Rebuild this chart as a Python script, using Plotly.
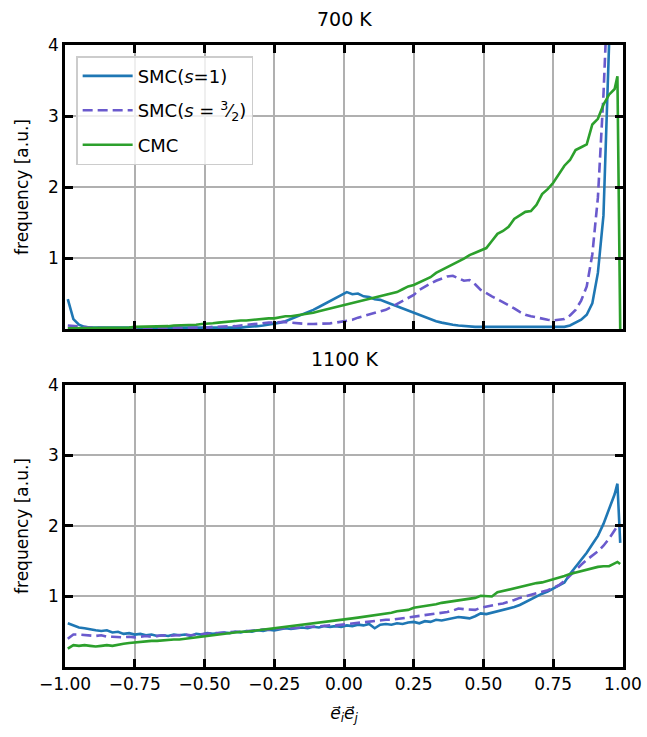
import numpy as np
import plotly.graph_objects as go

# bin centres of e_i . e_j
x = list(np.round(np.arange(-0.99, 0.971, 0.02), 3)) + [0.98, 0.99]

# 700 K
top_smc1 = [0.42, 0.14, 0.06, 0.03, 0.02, 0.02, 0.01, 0.01, 0.01, 0.01,
            0.01, 0.01, 0.01, 0.01, 0.01, 0.01, 0.01, 0.01, 0.01, 0.01,
            0.01, 0.01, 0.01, 0.01, 0.01, 0.01, 0.01, 0.02, 0.02, 0.02,
            0.02, 0.02, 0.03, 0.03, 0.04, 0.05, 0.06, 0.07, 0.09, 0.11,
            0.14, 0.17, 0.20, 0.23, 0.27, 0.31, 0.35, 0.40, 0.44, 0.47,
            0.52, 0.49, 0.50, 0.46, 0.45, 0.42, 0.41, 0.38, 0.35, 0.32,
            0.29, 0.26, 0.22, 0.20, 0.17, 0.14, 0.11, 0.09, 0.07, 0.06,
            0.05, 0.04, 0.04, 0.03, 0.03, 0.03, 0.02, 0.02, 0.02, 0.02,
            0.02, 0.02, 0.02, 0.02, 0.02, 0.02, 0.02, 0.02, 0.03, 0.03,
            0.05, 0.09, 0.13, 0.20, 0.36, 0.79, 1.60, 4.00, 6.50, 8.00,
            9.00]
top_smc32 = [0.05, 0.04, 0.03, 0.02, 0.02, 0.02, 0.01, 0.01, 0.01, 0.01,
             0.01, 0.01, 0.01, 0.01, 0.01, 0.01, 0.01, 0.01, 0.01, 0.01,
             0.01, 0.01, 0.02, 0.02, 0.02, 0.02, 0.03, 0.03, 0.03, 0.04,
             0.04, 0.05, 0.06, 0.07, 0.08, 0.08, 0.09, 0.09, 0.10, 0.10,
             0.09, 0.08, 0.07, 0.07, 0.07, 0.07, 0.07, 0.08, 0.09, 0.10,
             0.11, 0.13, 0.16, 0.18, 0.20, 0.22, 0.24, 0.27, 0.31, 0.35,
             0.39, 0.43, 0.48, 0.55, 0.60, 0.64, 0.68, 0.71, 0.74, 0.75,
             0.72, 0.68, 0.69, 0.63, 0.55, 0.50, 0.46, 0.42, 0.38, 0.33,
             0.29, 0.24, 0.20, 0.18, 0.16, 0.14, 0.13, 0.12, 0.13, 0.14,
             0.19, 0.27, 0.40, 0.60, 1.05, 1.85, 3.30, 5.00, 7.00, 8.00,
             9.00]
top_cmc = [0.01, 0.01, 0.01, 0.01, 0.01, 0.01, 0.02, 0.02, 0.02, 0.02,
           0.02, 0.02, 0.03, 0.03, 0.03, 0.03, 0.04, 0.04, 0.04, 0.05,
           0.05, 0.05, 0.06, 0.06, 0.07, 0.07, 0.08, 0.09, 0.10, 0.11,
           0.11, 0.12, 0.12, 0.13, 0.14, 0.14, 0.15, 0.15, 0.17, 0.18,
           0.18, 0.19, 0.20, 0.22, 0.23, 0.25, 0.27, 0.29, 0.31, 0.32,
           0.34, 0.36, 0.38, 0.40, 0.42, 0.44, 0.46, 0.48, 0.50, 0.52,
           0.56, 0.60, 0.62, 0.66, 0.70, 0.73, 0.79, 0.83, 0.86, 0.91,
           0.95, 0.99, 1.04, 1.07, 1.10, 1.14, 1.24, 1.34, 1.38, 1.44,
           1.55, 1.60, 1.65, 1.66, 1.75, 1.90, 1.97, 2.06, 2.18, 2.30,
           2.38, 2.52, 2.56, 2.60, 2.88, 2.96, 3.16, 3.30, 3.38, 3.56,
           0.00]

# 1100 K
bot_smc1 = [0.62, 0.59, 0.56, 0.55, 0.53, 0.52, 0.51, 0.52, 0.49, 0.50,
            0.47, 0.48, 0.46, 0.47, 0.45, 0.46, 0.44, 0.45, 0.44, 0.46,
            0.45, 0.46, 0.44, 0.47, 0.46, 0.48, 0.47, 0.48, 0.49, 0.48,
            0.50, 0.49, 0.51, 0.50, 0.52, 0.51, 0.53, 0.52, 0.54, 0.55,
            0.54, 0.55, 0.56, 0.55, 0.57, 0.56, 0.58, 0.57, 0.58, 0.57,
            0.59, 0.58, 0.60, 0.59, 0.61, 0.55, 0.60, 0.61, 0.60, 0.62,
            0.61, 0.63, 0.64, 0.62, 0.65, 0.64, 0.67, 0.66, 0.68, 0.69,
            0.71, 0.70, 0.69, 0.72, 0.76, 0.75, 0.77, 0.78, 0.80, 0.82,
            0.85, 0.88, 0.92, 0.97, 1.00, 1.04, 1.07, 1.11, 1.15, 1.20,
            1.32, 1.42, 1.52, 1.62, 1.74, 1.86, 2.03, 2.24, 2.45, 2.60,
            1.76]
bot_smc32 = [0.40, 0.46, 0.46, 0.45, 0.45, 0.44, 0.45, 0.43, 0.43, 0.42,
             0.42, 0.43, 0.42, 0.43, 0.44, 0.43, 0.44, 0.45, 0.44, 0.45,
             0.45, 0.46, 0.45, 0.46, 0.47, 0.47, 0.48, 0.48, 0.49, 0.49,
             0.50, 0.50, 0.51, 0.51, 0.52, 0.53, 0.53, 0.54, 0.54, 0.55,
             0.55, 0.56, 0.56, 0.57, 0.57, 0.58, 0.58, 0.59, 0.59, 0.60,
             0.60, 0.61, 0.62, 0.63, 0.64, 0.65, 0.66, 0.67, 0.67, 0.68,
             0.69, 0.70, 0.71, 0.72, 0.73, 0.74, 0.76, 0.77, 0.78, 0.80,
             0.83, 0.82, 0.81, 0.81, 0.84, 0.86, 0.88, 0.89, 0.90, 0.92,
             0.95, 0.98, 1.00, 1.02, 1.04, 1.06, 1.09, 1.12, 1.16, 1.22,
             1.30, 1.38, 1.45, 1.52, 1.58, 1.64, 1.72, 1.82, 1.94, 2.00,
             1.98]
bot_cmc = [0.26, 0.31, 0.30, 0.31, 0.30, 0.29, 0.30, 0.31, 0.30, 0.32,
           0.33, 0.34, 0.35, 0.35, 0.36, 0.37, 0.37, 0.38, 0.38, 0.39,
           0.39, 0.40, 0.41, 0.42, 0.43, 0.44, 0.45, 0.46, 0.47, 0.48,
           0.49, 0.50, 0.50, 0.51, 0.52, 0.53, 0.54, 0.55, 0.56, 0.57,
           0.58, 0.59, 0.59, 0.60, 0.61, 0.62, 0.63, 0.64, 0.66, 0.67,
           0.68, 0.69, 0.70, 0.71, 0.72, 0.74, 0.75, 0.76, 0.77, 0.79,
           0.80, 0.81, 0.84, 0.85, 0.86, 0.88, 0.89, 0.91, 0.92, 0.94,
           0.95, 0.96, 0.97, 0.98, 1.01, 1.01, 1.00, 1.06, 1.08, 1.09,
           1.12, 1.14, 1.16, 1.17, 1.19, 1.20, 1.22, 1.25, 1.27, 1.29,
           1.32, 1.34, 1.37, 1.39, 1.41, 1.42, 1.43, 1.43, 1.47, 1.49,
           1.46]

series_names = ["SMC(<i>s</i>=1)", "SMC(<i>s</i> = <sup>3</sup>\u2044<sub>2</sub>)", "CMC"]
xtick_vals = [-1.0, -0.75, -0.5, -0.25, 0.0, 0.25, 0.5, 0.75, 1.0]
xtick_text = ["\u22121.00", "\u22120.75", "\u22120.50", "\u22120.25", "0.00", "0.25", "0.50", "0.75", "1.00"]
ytick_vals = [1, 2, 3, 4]

colors = ["#1f77b4", "#6a5acd", "#2ca02c"]
dashes = ["solid", "10px,5px", "solid"]

fig = go.Figure()
for k, (ys, name) in enumerate(zip([top_smc1, top_smc32, top_cmc], series_names)):
    fig.add_trace(go.Scatter(x=x, y=ys, mode="lines", name=name, legendgroup=str(k),
                             line=dict(color=colors[k], width=2.6, dash=dashes[k]),
                             xaxis="x", yaxis="y"))
for k, ys in enumerate([bot_smc1, bot_smc32, bot_cmc]):
    fig.add_trace(go.Scatter(x=x, y=ys, mode="lines", showlegend=False,
                             line=dict(color=colors[k], width=2.6, dash=dashes[k]),
                             xaxis="x2", yaxis="y2"))

FS = 17
axis_common = dict(showline=True, linewidth=2.5, linecolor="black", mirror="ticks",
                   ticks="inside", ticklen=8, tickwidth=2.5, tickcolor="black",
                   showgrid=True, gridcolor="#b0b0b0", gridwidth=1.6, zeroline=False,
                   automargin=False, tickfont=dict(size=FS, color="black"))

fig.update_layout(
    width=647, height=737,
    margin=dict(l=65, r=24, t=45, b=70),
    paper_bgcolor="white", plot_bgcolor="white",
    font=dict(family="DejaVu Sans", size=FS, color="black"),
    xaxis=dict(domain=[0, 1], range=[-1, 1], tickvals=xtick_vals, ticktext=xtick_text,
               showticklabels=False, anchor="y", **axis_common),
    yaxis=dict(domain=[0.5434, 1], range=[0, 4], tickvals=ytick_vals,
               title=dict(text="frequency [a.u.]", font=dict(size=FS), standoff=16),
               anchor="x", **axis_common),
    xaxis2=dict(domain=[0, 1], range=[-1, 1], tickvals=xtick_vals, ticktext=xtick_text,
                anchor="y2", matches="x",
                title=dict(text="<i>e\u20d7</i><sub><i>i</i></sub><i>e\u20d7</i><sub><i>j</i></sub>",
                           font=dict(size=FS), standoff=14),
                **axis_common),
    yaxis2=dict(domain=[0, 0.4534], range=[0, 4], tickvals=ytick_vals,
                title=dict(text="frequency [a.u.]", font=dict(size=FS), standoff=16),
                anchor="x2", **axis_common),
    legend=dict(x=0.02, y=0.982, xanchor="left", yanchor="top",
                bgcolor="rgba(255,255,255,0.8)", bordercolor="#cccccc", borderwidth=1.5,
                font=dict(size=FS + 1), traceorder="grouped", tracegroupgap=8,
                itemwidth=50),
    annotations=[
        dict(text="700 K", x=0.5, y=1, xref="paper", yref="paper", xanchor="center",
             yanchor="bottom", yshift=13, showarrow=False, font=dict(size=FS + 2)),
        dict(text="1100 K", x=0.5, y=0.4534, xref="paper", yref="paper", xanchor="center",
             yanchor="bottom", yshift=13, showarrow=False, font=dict(size=FS + 2)),
    ],
)

fig.write_html("out.html", config={"displayModeBar": False},
               post_script="document.body.style.margin='0';")
